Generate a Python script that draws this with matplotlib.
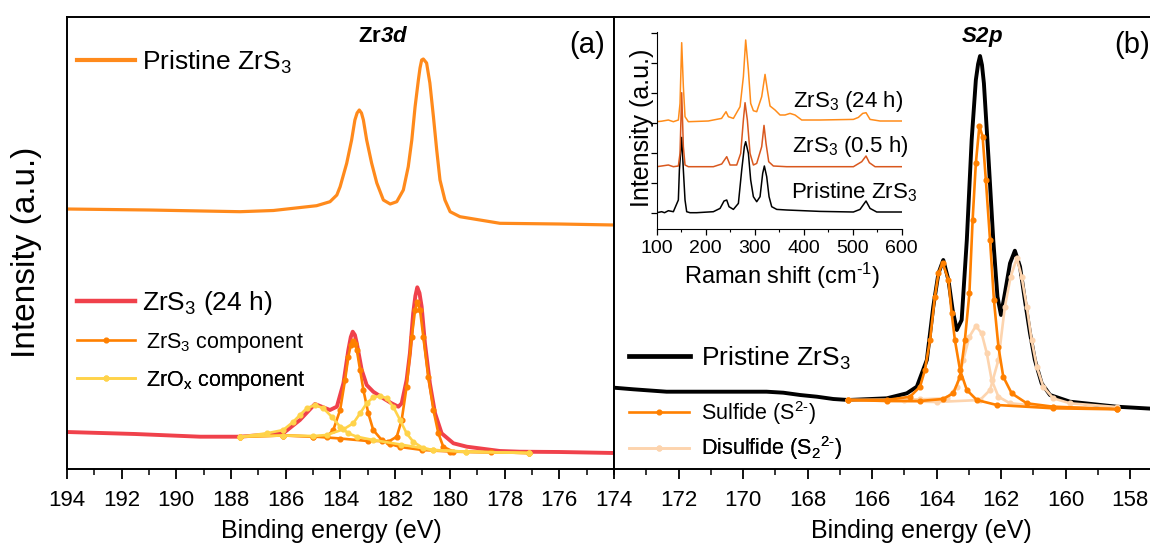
import numpy as np
import matplotlib
matplotlib.use("Agg")
import matplotlib.pyplot as plt
from matplotlib.ticker import MultipleLocator
from matplotlib.lines import Line2D

plt.rcParams['font.family'] = ['Liberation Sans', 'DejaVu Sans']
plt.rcParams['mathtext.fontset'] = 'custom'
plt.rcParams['mathtext.rm'] = 'Liberation Sans'
plt.rcParams['mathtext.it'] = 'Liberation Sans:italic'
plt.rcParams['mathtext.bf'] = 'Liberation Sans:bold'
plt.rcParams['mathtext.bfit'] = 'Liberation Sans:bold:italic'

# ---- Zr 3d, pristine (binding energy eV, intensity a.u.) ----
zr_pristine_be = [194.0, 191.0, 187.67, 186.45, 184.87, 184.38, 184.13, 184.01, 183.77, 183.59,
                  183.47, 183.39, 183.31, 183.23, 183.16, 183.04, 182.86, 182.67, 182.43, 182.18,
                  181.94, 181.70, 181.52, 181.39, 181.27, 181.15, 181.09, 181.03, 180.97, 180.85,
                  180.73, 180.60, 180.48, 180.36, 180.18, 179.99, 179.63, 178.17, 176.0, 174.0]
zr_pristine_int = [260, 259, 257.3, 258.5, 263.3, 267.3, 274, 282.3, 305.7, 329,
                   349, 356, 359, 356, 349, 329, 306, 286, 269, 265,
                   267.3, 279, 302.3, 329, 362.3, 389, 401, 409, 410, 406,
                   386, 352.3, 319, 289, 269, 257.3, 252.3, 245.7, 245, 244]

# ---- Zr 3d, 24 h envelope ----
zr_24h_be = [194.0, 191.5, 189.13, 187.67, 186.09, 185.48, 184.93, 184.38, 184.13, 183.89,
             183.71, 183.62, 183.55, 183.47, 183.40, 183.22, 183.04, 182.80, 182.43, 182.13,
             181.88, 181.76, 181.58, 181.46, 181.34, 181.26, 181.19, 181.11, 181.03, 180.91,
             180.73, 180.54, 180.30, 179.87, 179.38, 178.17, 177.44, 176.0, 174.0]
zr_24h_int = [37, 35, 32.3, 32.3, 35.7, 49, 65, 59, 62.3, 85.7,
              119, 132, 137.3, 134, 125.7, 99, 84, 77.3, 70.7, 65.7,
              62.3, 65.7, 89, 115.7, 155.7, 173, 181.7, 176, 162.3, 125.7,
              85.7, 55.7, 35.7, 25.7, 22.3, 18, 17.3, 17, 16]

# ZrS3 component (two spin-orbit peaks)
zrs3_a_be = [187.67, 186.1, 185.0, 184.5, 184.26, 184.01, 183.83, 183.71, 183.62, 183.55,
             183.47, 183.40, 183.28, 183.16, 182.98, 182.80, 182.49, 182.18, 181.82, 181.0,
             180.0, 177.1]
zrs3_a_int = [32.3, 33.5, 32.5, 32.3, 39, 59, 89, 112.3, 124, 128.3,
              125, 119, 99, 79, 55.7, 39, 29, 25, 22, 19,
              17.5, 16]
zrs3_b_be = [187.67, 186.1, 185.0, 184.0, 183.0, 182.49, 182.25, 181.94, 181.76, 181.58,
             181.39, 181.27, 181.19, 181.09, 180.97, 180.79, 180.60, 180.42, 180.24, 179.87,
             178.5, 177.1]
zrs3_b_int = [32.3, 33.5, 32.5, 30.5, 28, 28, 27.3, 32.3, 49, 82.3,
              132.3, 159, 167.3, 159, 132.3, 92.3, 59, 35.7, 22.3, 17.3,
              16.8, 16]

# ZrOx component
zrox_a_be = [187.67, 186.69, 186.09, 185.72, 185.48, 185.23, 184.93, 184.62, 184.32, 184.01,
             183.71, 183.40, 182.8, 181.8, 180.6, 179.4, 177.1]
zrox_a_int = [32.3, 35.7, 39, 47.3, 54, 60.7, 64, 60.7, 52.3, 42.3,
              35.7, 32.3, 29, 24.5, 19, 17.3, 16]
zrox_b_be = [187.67, 186.1, 185.0, 184.5, 183.89, 183.53, 183.28, 183.04, 182.80, 182.55,
             182.31, 182.07, 181.82, 181.58, 181.34, 180.97, 180.60, 179.4, 177.1]
zrox_b_int = [32.3, 33.5, 33, 34, 39.7, 45.7, 55.7, 65.7, 71.7, 73,
              70.7, 62.3, 49, 35.7, 27.3, 20.7, 19, 17.3, 16]

# ---- S 2p, pristine ----
s2p_be = [174.0, 173.40, 172.37, 171.33, 170.30, 169.27, 168.75, 168.23, 167.71, 167.20,
          166.73, 165.54, 164.92, 164.61, 164.30, 164.10, 163.94, 163.79, 163.63, 163.50,
          163.37, 163.22, 163.06, 162.91, 162.78, 162.71, 162.65, 162.59, 162.53, 162.39,
          162.24, 162.11, 162.0, 161.88, 161.72, 161.57, 161.41, 161.26, 161.10, 160.95,
          160.74, 160.48, 159.86, 158.41, 157.0]
s2p_int = [81.3, 79.7, 77.3, 77.3, 77.3, 77.3, 76.3, 74, 72.3, 70,
           69, 70.7, 75.7, 82.3, 109, 162.3, 195.7, 209, 189, 159,
           139, 149, 229, 329, 389, 405, 413, 404, 385.7, 312.3,
           229, 172.3, 154, 175.7, 205.7, 218.3, 202.3, 169, 135.7, 109,
           85.7, 74, 67.3, 62.3, 59.7]

# Sulfide (S2-) component
sulf_a_be = [166.73, 165.54, 164.82, 164.51, 164.36, 164.20, 164.05, 163.94, 163.81, 163.63,
             163.53, 163.43, 163.27, 163.06, 162.75, 162.13, 160.38, 158.41]
sulf_a_int = [69, 69, 72.3, 82.3, 99, 129, 172.3, 195.7, 206.3, 189,
              155.7, 129, 99, 79, 69, 64, 60.7, 59.7]
sulf_b_be = [166.73, 165.54, 164.51, 163.8, 163.48, 163.27, 163.12, 162.98, 162.88, 162.78,
             162.67, 162.57, 162.47, 162.34, 162.22, 162.08, 161.93, 161.67, 161.20, 160.38,
             158.41]
sulf_b_int = [69, 68, 68, 70, 75.7, 92.3, 129, 175.7, 249, 305.7,
              343, 332.3, 289, 229, 169, 122.3, 92.3, 75.7, 65.7, 62.3,
              60]

# Disulfide (S2 2-) component
disulf_a_be = [166.73, 165.0, 164.51, 163.68, 163.37, 163.17, 162.98, 162.78, 162.60, 162.44,
               162.29, 162.08, 161.72, 160.4, 158.41]
disulf_a_int = [69, 69.5, 69.7, 70.7, 82.3, 109, 132.3, 143, 135.7, 115.7,
                89, 72.3, 65.7, 62, 60]
disulf_b_be = [166.73, 164.0, 162.65, 162.34, 162.08, 161.88, 161.70, 161.51, 161.36, 161.20,
               161.05, 160.89, 160.69, 160.38, 159.86, 158.41]
disulf_b_int = [69, 67, 69, 79, 109, 162.3, 192.3, 210.7, 192.3, 162.3,
                129, 102.3, 82.3, 70.7, 65.7, 62]

# ---- Raman inset (cm-1, offset intensity) ----
raman_pristine_x = [100, 110.2, 116, 123.8, 134, 144.2, 146.3, 151, 154.4, 157.8,
                    161.2, 168, 181.6, 215.6, 229.3, 237.4, 242.9, 247.6, 256.5, 266.7,
                    273.5, 278.9, 281.6, 287.1, 291.8, 297.3, 304.1, 310.9, 316.3, 319.7,
                    324.5, 329.3, 334.7, 345, 365.3, 433.3, 501.4, 515, 527.2, 535.4,
                    549, 600]
raman_pristine_y = [0, 1, 0, 2, 1, 12.7, 42.7, 75.3, 42.7, 12.7,
                    1, 0, 0, 1, 4.3, 11.7, 12.7, 6, 3.3, 9.3,
                    42.7, 66, 71, 59.3, 32.7, 16, 11, 16, 39.3, 46.7,
                    36, 16, 6, 3.3, 2.7, 1.3, 0.7, 3.3, 11.7, 4.3,
                    0.7, 0.7]
raman_05h_x = [100, 110, 123.8, 134, 144.2, 147.6, 151, 154.4, 157.8, 164.6,
               215.6, 232.7, 242.9, 249.7, 263.3, 271.4, 276.9, 280.3, 285, 290.5,
               297.3, 304.1, 314.3, 319, 323.1, 328.6, 338.1, 365.3, 501.4, 518.4,
               527.2, 534, 545.6, 600]
raman_05h_y = [46, 46.7, 47.7, 46, 46.7, 59.3, 120, 66, 47.7, 46,
               46, 48.7, 56, 47.7, 47.7, 59.3, 92.7, 110, 92.7, 59.3,
               47.7, 49.3, 66, 87.3, 69.3, 51, 46.7, 46, 46, 51,
               56.7, 50, 46, 46]
raman_24h_x = [100, 110, 123.8, 134, 144.2, 147.6, 151, 154.4, 157.8, 164.6,
               205.2, 232.4, 241.5, 246.3, 256.5, 270.1, 276.9, 281.6, 287.1, 291.8,
               297.3, 304.1, 314.3, 321.1, 325.9, 331.3, 341.5, 351.7, 361.9, 372.1,
               382.3, 395.9, 433.3, 501.4, 511.6, 520.4, 527.2, 535.4, 555.8, 600]
raman_24h_y = [91, 91.5, 92.7, 91, 92.7, 109.3, 170, 126, 96, 91,
               91.7, 94.3, 101, 96, 94.3, 106, 136, 172.7, 142.7, 109.3,
               102, 101, 116, 138.3, 122.7, 106.7, 102.7, 97.7, 97.7, 99.3,
               97.7, 92.7, 92.7, 93.3, 95.3, 99.3, 100, 93.3, 91.7, 91.7]

C_PRIS = '#FF8A1C'
C_24H = '#F0414B'
C_ZRS3 = '#FF8000'
C_ZROX = '#FFD34A'
C_SULF = '#FF8000'
C_DISULF = '#FDD4AE'
C_R05 = '#D9581E'
C_R24 = '#FF8C1A'

W, H = 1150, 548
fig = plt.figure(figsize=(W / 100, H / 100), dpi=100)
ax1 = fig.add_axes([66.8 / W, 79 / H, 547.2 / W, 452 / H])
ax2 = fig.add_axes([614 / W, 79 / H, 580.5 / W, 452 / H])

# panel (a)
ax1.plot(zr_pristine_be, zr_pristine_int, color=C_PRIS, lw=2.3)
ax1.plot(zr_24h_be, zr_24h_int, color=C_24H, lw=2.8)
mk = dict(marker='o', ms=3.4, lw=1.9)
ax1.plot(zrs3_a_be, zrs3_a_int, color=C_ZRS3, **mk)
ax1.plot(zrs3_b_be, zrs3_b_int, color=C_ZRS3, **mk)
ax1.plot(zrox_a_be, zrox_a_int, color=C_ZROX, **mk)
ax1.plot(zrox_b_be, zrox_b_int, color=C_ZROX, **mk)

# panel (b)
ax2.plot(s2p_be, s2p_int, color='black', lw=2.8)
ax2.plot(disulf_a_be, disulf_a_int, color=C_DISULF, **mk)
ax2.plot(disulf_b_be, disulf_b_int, color=C_DISULF, **mk)
ax2.plot(sulf_a_be, sulf_a_int, color=C_SULF, **mk)
ax2.plot(sulf_b_be, sulf_b_int, color=C_SULF, **mk)

for ax in (ax1, ax2):
    ax.set_ylim(0, 452)
    ax.set_yticks([])
    ax.xaxis.set_major_locator(MultipleLocator(2))
    ax.xaxis.set_minor_locator(MultipleLocator(1))
    ax.tick_params(axis='x', which='major', direction='out', length=7, width=1.3,
                   labelsize=16, pad=8)
    ax.tick_params(axis='x', which='minor', direction='out', length=4, width=1.1)
    for s in ax.spines.values():
        s.set_linewidth(1.4)
ax1.set_xlim(194, 174)
ax2.set_xlim(174, 156)
# 174 is already labelled by the left panel
ax2.set_xticks(np.arange(172, 157, -2))

ax1.set_xlabel('Binding energy (eV)', fontsize=18)
ax1.xaxis.set_label_coords(0.484, -0.11)
ax2.set_xlabel('Binding energy (eV)', fontsize=18)
ax2.xaxis.set_label_coords(0.529, -0.11)
ax1.set_ylabel('Intensity (a.u.)', fontsize=24)
ax1.yaxis.set_label_coords(-0.045, 0.48)

ax1.text(0.578, 0.956, r'Zr$\mathbfit{3d}$', transform=ax1.transAxes, fontsize=16,
         fontweight='bold', ha='center', va='center')
ax2.text(0.634, 0.956, r'$\mathbfit{S2p}$', transform=ax2.transAxes, fontsize=16,
         ha='center', va='center')
ax1.text(0.951, 0.938, '(a)', transform=ax1.transAxes, fontsize=21, ha='center', va='center')
ax2.text(0.892, 0.938, '(b)', transform=ax2.transAxes, fontsize=21, ha='center', va='center')


def one_legend(ax, handle, text, x, y, size, hl, tp):
    leg = ax.legend([handle], [text], loc='center left', bbox_to_anchor=(x, y),
                    frameon=False, fontsize=size, handlelength=hl, handletextpad=tp,
                    borderpad=0, borderaxespad=0, numpoints=1)
    ax.add_artist(leg)


one_legend(ax1, Line2D([], [], color=C_PRIS, lw=3), 'Pristine ZrS$_3$', 0.0186, 0.900, 19, 2.2, 0.27)
one_legend(ax1, Line2D([], [], color=C_24H, lw=3.2), 'ZrS$_3$ (24 h)', 0.0186, 0.367, 19, 2.2, 0.27)
one_legend(ax1, Line2D([], [], color=C_ZRS3, **mk), 'ZrS$_3$ component', 0.0186, 0.279, 15.5, 2.7, 0.5)
one_legend(ax1, Line2D([], [], color=C_ZROX, **mk), r'ZrO$_\mathrm{x}$ component', 0.0186, 0.195, 15.5, 2.7, 0.5)
one_legend(ax2, Line2D([], [], color='black', lw=3.4), 'Pristine ZrS$_3$', 0.0258, 0.2456, 19, 2.3, 0.43)
one_legend(ax2, Line2D([], [], color=C_SULF, **mk), 'Sulfide (S$^{2\u2010}$)', 0.0258, 0.1246, 15.5, 2.8, 0.55)
one_legend(ax2, Line2D([], [], color=C_DISULF, **mk), 'Disulfide (S$_2$$^{2\u2010}$)', 0.0258, 0.0458, 15.5, 2.8, 0.55)

# inset
axi = fig.add_axes([656.7 / W, (H - 229.3) / H, 245 / W, 197.6 / H])
axi.plot(raman_pristine_x, raman_pristine_y, color='black', lw=1.1)
axi.plot(raman_05h_x, raman_05h_y, color=C_R05, lw=1.1)
axi.plot(raman_24h_x, raman_24h_y, color=C_R24, lw=1.1)
axi.set_xlim(100, 600)
axi.set_ylim(-16.6, 181)
axi.spines['top'].set_visible(False)
axi.spines['right'].set_visible(False)
axi.xaxis.set_major_locator(MultipleLocator(100))
axi.xaxis.set_minor_locator(MultipleLocator(50))
axi.yaxis.set_major_locator(MultipleLocator(30))
axi.set_yticklabels([])
axi.tick_params(axis='both', which='major', direction='out', length=4.5, width=0.9,
                labelsize=14, pad=3)
axi.tick_params(axis='x', which='minor', direction='out', length=2.5, width=0.8)
axi.set_xlabel('Raman shift (cm$^{\u20101}$)', fontsize=17)
axi.xaxis.set_label_coords(0.51, -0.16)
axi.set_ylabel('Intensity (a.u.)', fontsize=18)
axi.yaxis.set_label_coords(-0.01, 0.515)
axi.text(379, 111.7, 'ZrS$_3$ (24 h)', fontsize=16, va='center')
axi.text(375.5, 66, 'ZrS$_3$ (0.5 h)', fontsize=16, va='center')
axi.text(373.5, 20.4, 'Pristine ZrS$_3$', fontsize=16, va='center')

fig.savefig('out.png', dpi=100)
